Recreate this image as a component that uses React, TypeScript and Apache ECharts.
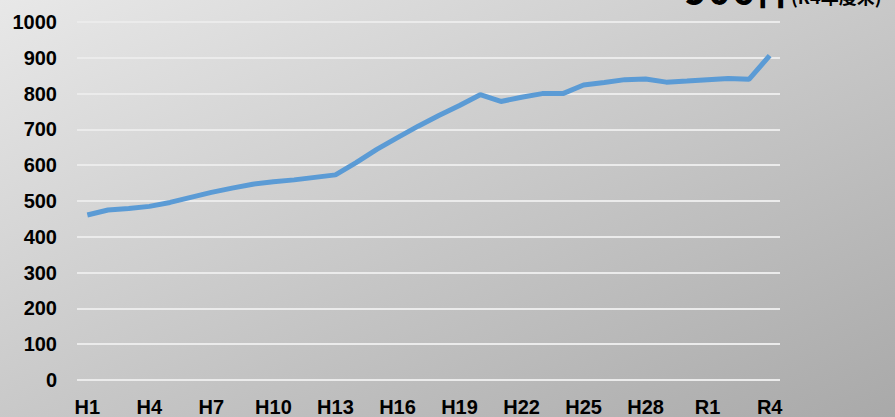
import React, { useEffect, useRef } from "react";
import * as echarts from "echarts";

const categories: string[] = [
  "H1", "H2", "H3", "H4", "H5", "H6", "H7", "H8", "H9", "H10",
  "H11", "H12", "H13", "H14", "H15", "H16", "H17", "H18", "H19", "H20",
  "H21", "H22", "H23", "H24", "H25", "H26", "H27", "H28", "H29", "H30",
  "R1", "R2", "R3", "R4",
];

const values: number[] = [
  461, 475, 479, 485, 496, 510, 524, 536, 547, 554,
  559, 566, 573, 607, 644, 677, 709, 739, 767, 797,
  778, 790, 800, 800, 824, 831, 839, 841, 832, 835,
  839, 842, 840, 906,
];

const yTicks = { min: 0, max: 1000, interval: 100 };
const headline = "906件";
const headlineNote = "(R4年度末)";

export default function App() {
  const ref = useRef<HTMLDivElement>(null);
  useEffect(() => {
    document.body.style.margin = "0";
    const chart = echarts.init(ref.current!, undefined, { renderer: "svg" });
    chart.setOption({
      animation: false,
      backgroundColor: new echarts.graphic.LinearGradient(0, 0, 1, 1, [
        { offset: 0, color: "#e8e8e8" },
        { offset: 1, color: "#a9a9a9" },
      ]),
      grid: { left: 77, right: 115, top: 22, bottom: 35, containLabel: false },
      xAxis: {
        type: "category",
        data: categories,
        boundaryGap: true,
        axisLine: { show: false },
        axisTick: { show: false },
        axisLabel: {
          interval: 2,
          margin: 17,
          color: "#000",
          fontFamily: "Liberation Sans, Arial, sans-serif",
          fontWeight: "bold",
          fontSize: 20,
        },
      },
      yAxis: {
        type: "value",
        min: yTicks.min,
        max: yTicks.max,
        interval: yTicks.interval,
        axisLine: { show: false },
        axisTick: { show: false },
        splitLine: { lineStyle: { color: "#ebebeb", width: 2 } },
        axisLabel: {
          margin: 20,
          color: "#000",
          formatter: (v: number) => String(v),
          fontFamily: "Liberation Sans, Arial, sans-serif",
          fontWeight: "bold",
          fontSize: 20,
        },
      },
      series: [
        {
          type: "line",
          data: values,
          showSymbol: false,
          symbol: "none",
          smooth: false,
          lineStyle: { color: "#5b9bd5", width: 5 },
        },
      ],
      graphic: [
        {
          type: "text",
          left: 684,
          top: -33,
          style: {
            text: headline,
            fill: "#000",
            font: "bold 40px 'Noto Sans CJK JP', sans-serif",
          },
        },
        {
          type: "text",
          left: 791,
          top: -13,
          style: {
            text: headlineNote,
            fill: "#000",
            font: "bold 18px 'Noto Sans CJK JP', sans-serif",
          },
        },
      ],
    });
    return () => chart.dispose();
  }, []);
  return (
    <div
      ref={ref}
      style={{ position: "absolute", left: 0, top: 0, width: 895, height: 417 }}
    />
  );
}
